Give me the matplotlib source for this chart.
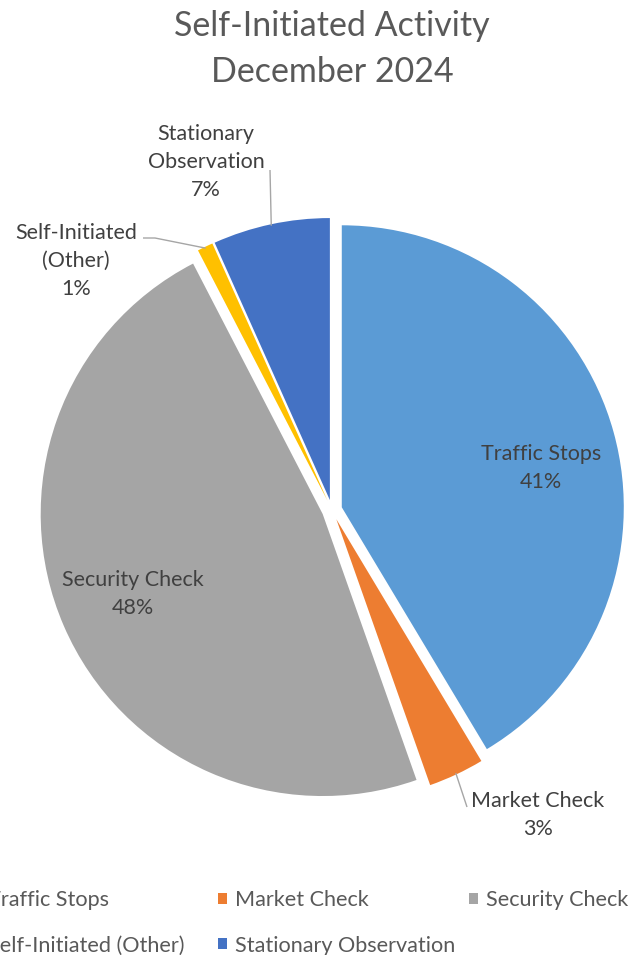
import numpy as np
import matplotlib
matplotlib.use("Agg")
import matplotlib.pyplot as plt

categories = ["Traffic Stops", "Market Check", "Security Check",
              "Self-Initiated (Other)", "Stationary Observation"]
values = [41.4, 3.2, 47.8, 0.9, 6.7]
colors = ["#5B9BD5", "#ED7D31", "#A5A5A5", "#FFC000", "#4472C4"]
slice_labels = ["Traffic Stops", "Market Check", "Security Check",
                "Self-Initiated\n(Other)", "Stationary\nObservation"]
title = "Self-Initiated Activity\nDecember 2024"

FONT = "Lato"
W, H = 631, 955
cx, cy, R = 332, 510, 282
EXPL = 0.036

fig = plt.figure(figsize=(W / 100, H / 100), dpi=100)
ax = fig.add_axes([0, 0, 1, 1])

wedges, _ = ax.pie(values, colors=colors, startangle=90, counterclock=False,
                   explode=[EXPL] * len(values),
                   wedgeprops=dict(linewidth=0))
ax.set_xlim(-cx / R, (W - cx) / R)
ax.set_ylim(-(H - cy) / R, cy / R)
ax.set_aspect("equal")
ax.axis("off")


def px2d(px, py):
    return (px - cx) / R, (cy - py) / R


total = sum(values)
pct = [v / total * 100 for v in values]

# label placements (pixel coordinates of label centres)
label_pos = [(541, 468), (538, 815), (133, 594), (76, 261), (206, 162)]
# leader line start points (pixels) for outside labels
leader_start = {1: [(467, 807)], 3: [(143, 238), (155, 238)], 4: [(270, 170)]}

cum = 0.0
for i, (w, v) in enumerate(zip(wedges, values)):
    mid = (cum + v / 2) / total * 360.0
    cum += v
    txt = f"{slice_labels[i]}\n{pct[i]:.0f}%"
    x, y = px2d(*label_pos[i])
    ax.text(x, y, txt, ha="center", va="center", fontsize=15.5,
            color="#404040", family=FONT, linespacing=1.5)
    if i in leader_start:
        th = np.deg2rad(mid)
        ex = np.sin(th) * (1 + EXPL) * 0.995
        ey = np.cos(th) * (1 + EXPL) * 0.995
        pts = [px2d(*p) for p in leader_start[i]] + [(ex, ey)]
        xs, ys = zip(*pts)
        ax.plot(xs, ys, color="#A6A6A6", linewidth=1.0, solid_capstyle="butt")

fig.text(332 / W, 1 - 49 / H, title, ha="center", va="center",
         fontsize=24.5, color="#595959", family=FONT, linespacing=1.5)

columns = [[0, 3], [1, 4], [2]]
text_start = [-12, 235, 486]
for cols, xp in zip(columns, text_start):
    leg = fig.legend([wedges[k] for k in cols], [categories[k] for k in cols],
                     loc="upper left", bbox_to_anchor=((xp - 17) / W, 1 - 890 / H),
                     frameon=False, ncol=1, borderpad=0, borderaxespad=0,
                     handlelength=0.42, handleheight=0.42, handletextpad=0.37,
                     labelspacing=1.18,
                     prop=dict(family=FONT, size=15.6))
    for t in leg.get_texts():
        t.set_color("#595959")

fig.savefig("out.png", dpi=100)
